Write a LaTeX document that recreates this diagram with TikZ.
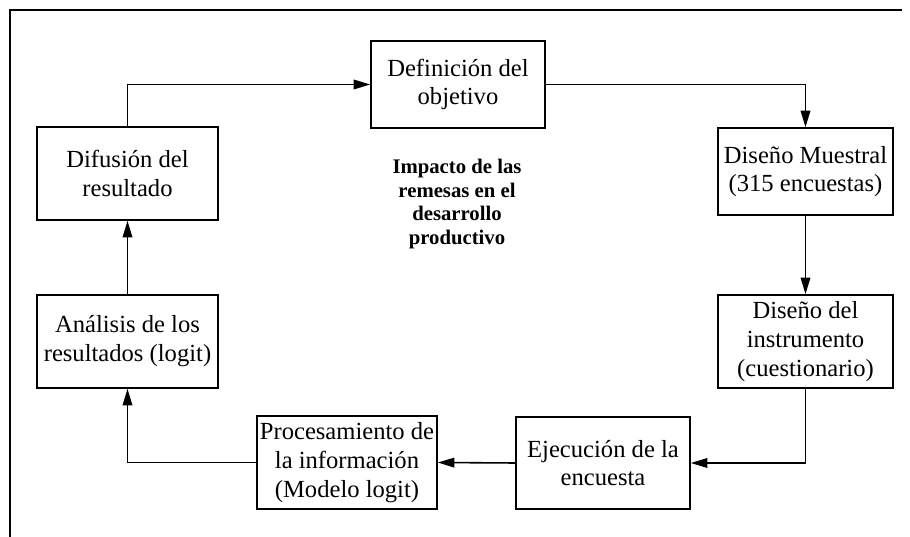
\documentclass[tikz,border=0pt]{standalone}
\usepackage{fontspec}
\setmainfont{Liberation Serif}
\usetikzlibrary{arrows.meta}

\begin{document}
\begin{tikzpicture}[x=0.02cm, y=-0.02cm, %Ciclo de la investigacion
        caja/.style={draw, line width=0.9pt, align=center, inner sep=0pt, font=\fontsize{14}{16.4}\selectfont},
        flecha/.style={draw, line width=0.9pt, -{Triangle[length=9.5pt,width=5.5pt]}}]
        \useasboundingbox (0,0) rectangle (910,537);
        \draw[line width=1.4pt] (10,537) -- (10,10) -- (902,10);

        \node[caja, minimum width=3.62cm, minimum height=1.86cm] (difusion) at (127.5,173.5) {Difusión del\\resultado};
        \node[caja, minimum width=3.48cm, minimum height=1.74cm] (definicion) at (458,84.5) {Definición del\\objetivo};
        \node[caja, minimum width=3.5cm, minimum height=1.74cm] (muestral) at (805.5,171.5) {Diseño Muestral\\(315 encuestas)};
        \node[caja, minimum width=3.5cm, minimum height=1.86cm] (instrumento) at (805.5,341.5) {Diseño del\\instrumento\\(cuestionario)};
        \node[caja, minimum width=3.48cm, minimum height=1.84cm] (ejecucion) at (603,463) {Ejecución de la\\encuesta};
        \node[caja, minimum width=3.6cm, minimum height=1.86cm] (procesamiento) at (347,462.5) {Procesamiento de\\la información\\(Modelo logit)};
        \node[caja, minimum width=3.62cm, minimum height=1.86cm] (analisis) at (127.5,341.5) {Análisis de los\\resultados (logit)};

        \node[align=center, font=\fontsize{11.8}{13.6}\selectfont\bfseries] (impacto) at (457,204) {Impacto de las\\remesas en el\\desarrollo\\productivo};

        \draw[flecha] (difusion.north) |- (definicion.west);
        \draw[flecha] (definicion.east) -| (muestral.north);
        \draw[flecha] (muestral.south) -- (instrumento.north);
        \draw[flecha] (instrumento.south) |- (ejecucion.east);
        \draw[flecha] (ejecucion.west) -- (procesamiento.east);
        \draw[flecha] (procesamiento.west) -| (analisis.south);
        \draw[flecha] (analisis.north) -- (difusion.south);
    \end{tikzpicture}
\end{document}
